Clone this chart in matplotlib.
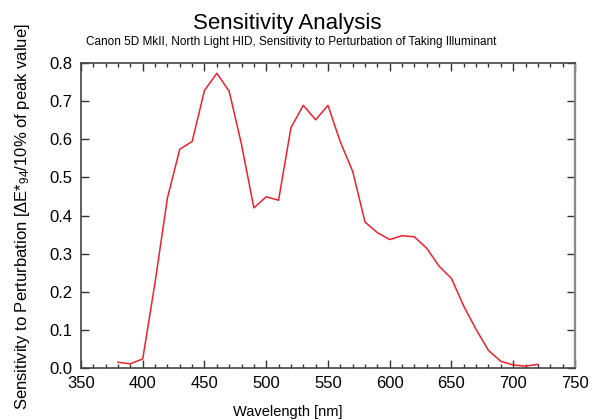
import numpy as np
import matplotlib
matplotlib.use("Agg")
import matplotlib.pyplot as plt
from matplotlib.ticker import MultipleLocator, FormatStrFormatter

plt.rcParams["font.family"] = ["Liberation Sans", "DejaVu Sans"]
plt.rcParams["mathtext.fontset"] = "custom"
plt.rcParams["mathtext.rm"] = "Liberation Sans"
plt.rcParams["mathtext.it"] = "Liberation Sans:italic"

# Wavelength samples [nm] and sensitivity values
wavelength = list(range(380, 730, 10))
sensitivity = [
    0.015, 0.011, 0.024, 0.225, 0.446, 0.574, 0.594, 0.728, 0.773, 0.726,
    0.586, 0.420, 0.449, 0.440, 0.630, 0.689, 0.651, 0.689, 0.593, 0.516,
    0.383, 0.355, 0.337, 0.347, 0.344, 0.314, 0.267, 0.235, 0.162, 0.101,
    0.046, 0.0175, 0.008, 0.005, 0.0096,
]

title = "Sensitivity Analysis"
subtitle = "Canon 5D MkII, North Light HID, Sensitivity to Perturbation of Taking Illuminant"
xlabel = "Wavelength [nm]"
ylabel = r"Sensitivity to Perturbation [$\Delta$E*$_{94}$/10% of peak value]"

fig = plt.figure(figsize=(5.97, 4.2), dpi=100)
ax = fig.add_axes([0.1357, 0.1238, 0.8273, 0.7262])

ax.plot(wavelength, sensitivity, color="#f0202e", lw=1.1)

ax.set_xlim(350, 750)
ax.set_ylim(0, 0.8)
ax.xaxis.set_major_locator(MultipleLocator(50))
ax.xaxis.set_minor_locator(MultipleLocator(10))
ax.yaxis.set_major_locator(MultipleLocator(0.1))
ax.yaxis.set_major_formatter(FormatStrFormatter("%.1f"))

ax.tick_params(which="both", direction="in", top=True, right=True,
               color="#333333", labelsize=12, pad=6)
ax.tick_params(which="major", length=5.8, width=1)
ax.tick_params(which="minor", length=3, width=1)
for s in ax.spines.values():
    s.set_color("#444444")
    s.set_linewidth(1.2)
ax.spines["right"].set_color("#888888")
ax.spines["right"].set_linewidth(1.6)

# labels and titles placed in figure pixels to follow the original layout
fig.text(288 / 597, 1 - 412 / 420, xlabel, ha="center", va="center", fontsize=10.5)
fig.text(23 / 597, 1 - 217 / 420, ylabel, ha="center", va="center",
         rotation=90, fontsize=12)
fig.text(0.481, 0.945, title, ha="center", va="center", fontsize=16)
fig.text(0.487, 0.899, subtitle, ha="center", va="center", fontsize=8.5)

fig.savefig("out.png", dpi=100)
